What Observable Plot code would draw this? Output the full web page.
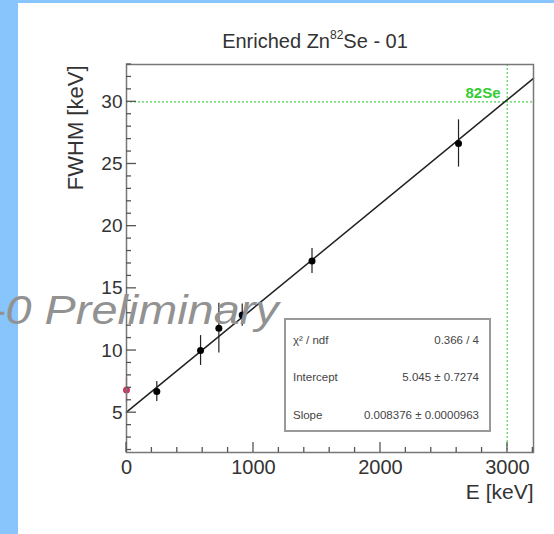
<!DOCTYPE html>
<html><head><meta charset="utf-8">
<script src="https://cdn.jsdelivr.net/npm/d3@7"></script>
<script src="https://cdn.jsdelivr.net/npm/@observablehq/plot@0.6"></script>
<style>
html,body{margin:0;padding:0;}
body{width:554px;height:534px;background:#87c5fc;position:relative;overflow:hidden;font-family:"Liberation Sans",Arial,Helvetica,sans-serif;}
#panel{position:absolute;left:18px;top:3px;width:536px;height:531px;background:#fff;}
#chart{position:absolute;left:18px;top:3px;}
#title{position:absolute;left:115px;top:31px;width:400px;text-align:center;font-size:20px;line-height:20px;color:#333;white-space:nowrap;}
#title sup{font-size:12px;line-height:0;vertical-align:9px;}
#stats{position:absolute;left:284px;top:318px;width:203px;height:110px;border:2px solid #999;background:#fff;color:#444;font-size:11.5px;}
#stats .row{position:absolute;left:7px;right:10px;display:flex;justify-content:space-between;line-height:14px;white-space:nowrap;}
#wm{position:absolute;left:-10px;top:290px;font-size:40px;line-height:40px;font-style:italic;color:#929292;white-space:nowrap;transform:scaleX(1.17);transform-origin:left top;}
</style></head><body>
<div id="panel"></div>
<div id="chart"></div>
<div id="title">Enriched Zn<sup>82</sup>Se - 01</div>
<div id="stats"></div>
<div id="wm">-0 Preliminary</div>
<script>
// Calibration peaks
const energy  = [238.6, 583.2, 727.3, 911.2, 1460.8, 2614.5];
const fwhm    = [6.7, 10.0, 11.8, 12.85, 17.2, 26.65];
const fwhmErr = [0.8, 1.2, 2.0, 0.9, 1.0, 1.9];
// Baseline point at 0 keV
const zeroEnergy = [0];
const zeroFwhm   = [6.82];
const zeroErr    = [1.0];
// Linear fit
const fitIntercept = 5.045;
const fitSlope = 0.008376;
const statLabels = ["\u03c7\u00b2 / ndf", "Intercept", "Slope"];
const statValues = ["0.366 / 4", "5.045 \u00b1 0.7274", "0.008376 \u00b1 0.0000963"];
// 82Se Q-value marker
const qEnergy = [2998];
const qFwhm = [30];
const qLabel = ["82Se"];
// Axes
const xDomain = [0, 3205];
const yDomain = [1.8, 33];
const xMajor = [0, 1000, 2000, 3000];
const xMinor = [200, 400, 600, 800, 1200, 1400, 1600, 1800, 2200, 2400, 2600, 2800, 3200];
const yMajor = [5, 10, 15, 20, 25, 30];
const yMinor = [2, 3, 4, 6, 7, 8, 9, 11, 12, 13, 14, 16, 17, 18, 19, 21, 22, 23, 24, 26, 27, 28, 29, 31, 32, 33];

const points = energy.map((e, i) => ({e, f: fwhm[i], err: fwhmErr[i]}));
const zeroPts = zeroEnergy.map((e, i) => ({e, f: zeroFwhm[i], err: zeroErr[i]}));
const fitLine = xDomain.map(e => ({e, f: fitIntercept + fitSlope * e}));

const W = 536, H = 531, mL = 108, mR = 21, mT = 61, mB = 82;
const green = "#4fd24f";
const font = "Liberation Sans, Arial, Helvetica, sans-serif";

const chart = Plot.plot({
  width: W, height: H,
  marginLeft: mL, marginRight: mR, marginTop: mT, marginBottom: mB,
  style: {background: "white", fontFamily: font, fontSize: "19px", overflow: "visible"},
  x: {domain: xDomain},
  y: {domain: yDomain},
  marks: [
    Plot.ruleY(qFwhm, {y: d => d, stroke: green, strokeWidth: 1.2, strokeDasharray: "2,2"}),
    Plot.ruleX(qEnergy, {x: d => d, stroke: green, strokeWidth: 1.2, strokeDasharray: "2,2"}),
    Plot.text(qLabel, {frameAnchor: "top-right", dx: -33, dy: 33, textAnchor: "end", lineAnchor: "bottom", fill: "#33cc33", fontSize: 15, fontWeight: "bold"}),
    Plot.axisY({ticks: yMajor, tickSize: 0, tickPadding: 4, label: null, fontSize: 19, fill: "#333", tickFormat: d => String(d)}),
    Plot.axisX({ticks: xMajor, tickSize: 0, tickPadding: 7, label: null, fontSize: 20, fill: "#333", tickFormat: d => String(d)}),
    Plot.text(["FWHM [keV]"], {frameAnchor: "top-left", rotate: -90, textAnchor: "end", lineAnchor: "middle", dx: -51, dy: 1, fontSize: 22, fill: "#333"}),
    Plot.text(["E [keV]"], {frameAnchor: "bottom-right", textAnchor: "end", lineAnchor: "bottom", dy: 46, fontSize: 21, fill: "#333"}),
    Plot.line(fitLine, {x: "e", y: "f", stroke: "#222", strokeWidth: 1.5}),
    Plot.ruleX(zeroPts, {x: "e", y1: d => d.f - d.err, y2: d => d.f + d.err, stroke: "#e9a3b8", strokeWidth: 1.5}),
    Plot.dot(zeroPts, {x: "e", y: "f", r: 3.5, fill: "#c8385e"}),
    Plot.ruleX(points, {x: "e", y1: d => d.f - d.err, y2: d => d.f + d.err, stroke: "#222", strokeWidth: 1.2}),
    Plot.dot(points, {x: "e", y: "f", r: 3.5, fill: "#000"}),
    Plot.frame({stroke: "#777", strokeWidth: 1.5})
  ]
});
document.getElementById("chart").appendChild(chart);

// ROOT-style inward ticks, placed with Plot's own scales
(function addTicks() {
  const svg = chart.tagName.toLowerCase() === "svg" ? chart : chart.querySelector("svg");
  const sxd = chart.scale("x"), syd = chart.scale("y");
  const sx = sxd.apply ? v => sxd.apply(v) : d3.scaleLinear(sxd.domain, sxd.range);
  const sy = syd.apply ? v => syd.apply(v) : d3.scaleLinear(syd.domain, syd.range);
  const g = d3.select(svg).append("g").attr("stroke", "#555").attr("stroke-width", 1.3).attr("fill", "none");
  const x0 = mL, yb = H - mB;
  const add = (x1, y1, x2, y2) => g.append("line").attr("x1", x1).attr("y1", y1).attr("x2", x2).attr("y2", y2);
  yMinor.forEach(v => { const y = sy(v); add(x0, y, x0 + 5, y); });
  yMajor.forEach(v => { const y = sy(v); add(x0, y, x0 + 10, y); });
  xMinor.forEach(v => { const x = sx(v); add(x, yb, x, yb - 5); });
  xMajor.forEach(v => { const x = sx(v); add(x, yb, x, yb - 10); });
})();

const stats = document.getElementById("stats");
const rowTops = [13, 50, 88];
statLabels.forEach((lab, i) => {
  const row = document.createElement("div");
  row.className = "row";
  row.style.top = rowTops[i] + "px";
  const a = document.createElement("span"); a.textContent = lab;
  const b = document.createElement("span"); b.textContent = statValues[i];
  row.appendChild(a); row.appendChild(b);
  stats.appendChild(row);
});
</script>
</body></html>
